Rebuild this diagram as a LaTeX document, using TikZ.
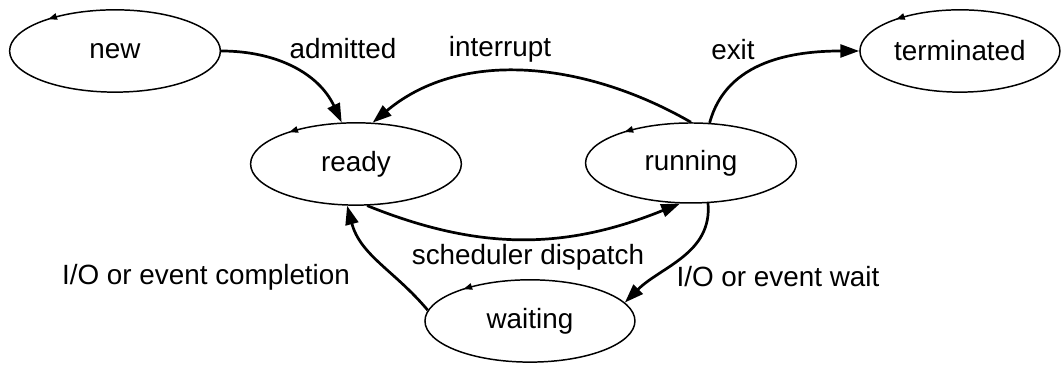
\documentclass[tikz,border=0pt]{standalone}
\usepackage{fontspec}
\setmainfont{Liberation Sans}
\usetikzlibrary{arrows.meta,positioning,shapes.geometric,decorations.markings}

\begin{document}
\begin{tikzpicture}[font=\fontsize{10.3}{12}\selectfont,
  state/.style={ellipse, draw, line width=0.55pt, minimum width=2.74cm, minimum height=1.07cm, inner sep=0pt,
    postaction={decorate, decoration={markings,
      mark=at position 0.39 with {\arrow{Triangle[length=3.2pt,width=2.4pt]}}}}},
  trans/.style={line width=1pt, -{Triangle[length=7pt,width=4.8pt]}},
  lbl/.style={inner sep=0pt}]
\useasboundingbox (0,0) rectangle (13.82,4.745);
% ---------- process states ----------
\node[state] (new) at (1.495,4.082) {new};
\node[state, minimum width=2.6cm] (terminated) at (12.48,4.082) {terminated};
\node[state] (ready) at (4.628,2.613) {ready};
\node[state, minimum height=1.04cm] (running) at (8.983,2.626) {running};
\node[state, minimum width=2.73cm] (waiting) at (6.89,0.572) {waiting};
% ---------- transitions ----------
\draw[trans] (new.east) to[out=0, in=115] (ready.109);
\draw[trans] (running.north) to[out=150, in=40, looseness=0.95] (ready.68);
\draw[trans] (running.65) to[out=75, in=180] (terminated.west);
\draw[trans] (ready.285) to[out=-22, in=202] (running.255);
\draw[trans] (running.293) to[out=-85, in=45] (waiting.11);
\draw[trans] (waiting.174) to[out=130, in=-75] (ready.258);
% ---------- labels ----------
\node[lbl] (admitted) at (4.459,4.108) {admitted};
\node[lbl] (interrupt) at (6.50,4.108) {interrupt};
\node[lbl] (exit) at (9.529,4.095) {exit};
\node[lbl] (dispatch) at (6.864,1.404) {scheduler dispatch};
\node[lbl] (completion) at (2.678,1.144) {I/O or event completion};
\node[lbl] (eventwait) at (10.114,1.144) {I/O or event wait};
\end{tikzpicture}
\end{document}
